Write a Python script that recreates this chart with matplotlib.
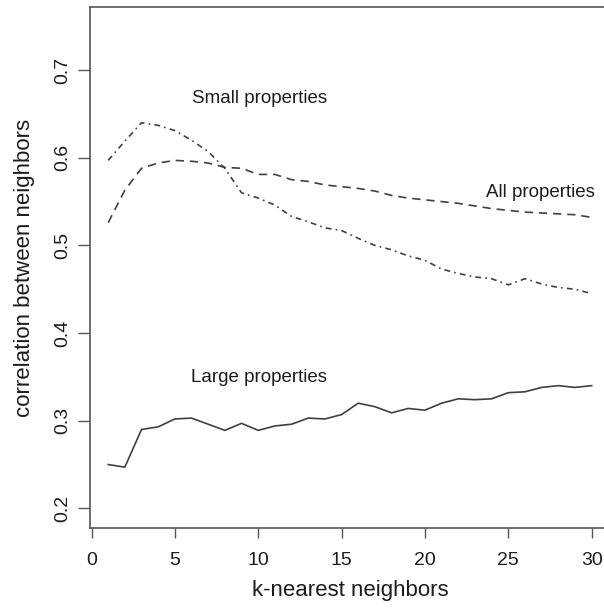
import numpy as np
import matplotlib.pyplot as plt

plt.rcParams['font.family'] = ['Liberation Sans', 'DejaVu Sans']

k = np.arange(1, 31)

# correlation for all properties (dashed)
all_props = [0.526, 0.563, 0.588, 0.594, 0.597, 0.596, 0.594, 0.589, 0.588, 0.581,
             0.581, 0.575, 0.573, 0.569, 0.567, 0.565, 0.562, 0.557, 0.554, 0.552,
             0.550, 0.548, 0.545, 0.542, 0.540, 0.538, 0.537, 0.536, 0.535, 0.532]
# small properties (dash-dot)
small_props = [0.597, 0.619, 0.640, 0.637, 0.631, 0.620, 0.607, 0.588, 0.560, 0.554,
               0.546, 0.533, 0.527, 0.520, 0.517, 0.508, 0.500, 0.495, 0.488, 0.483,
               0.473, 0.468, 0.464, 0.462, 0.455, 0.462, 0.456, 0.452, 0.450, 0.445]
# large properties (solid)
large_props = [0.250, 0.247, 0.290, 0.293, 0.302, 0.303, 0.296, 0.289, 0.297, 0.289,
               0.294, 0.296, 0.303, 0.302, 0.307, 0.320, 0.316, 0.309, 0.314, 0.312,
               0.320, 0.325, 0.324, 0.325, 0.332, 0.333, 0.338, 0.340, 0.338, 0.340]

labels = ['Small properties', 'All properties', 'Large properties']
label_pos = [(10.1, 0.668), (26.9, 0.560), (10.05, 0.349)]

W, H = 604, 609
fig = plt.figure(figsize=(W / 100, H / 100), dpi=100)
# right edge of the plot box lies outside the picture (cropped)
ax = fig.add_axes([90 / W, (H - 528) / H, (611 - 90) / W, (528 - 7) / H])

lc = '#404040'
ax.plot(k, all_props, color=lc, lw=1.2, dashes=(5, 3.5))
ax.plot(k, small_props, color=lc, lw=1.2, dashes=(3.5, 2.5, 1, 2.5))
ax.plot(k, large_props, color=lc, lw=1.2)

tc = '#1c1c1c'
for txt, (x, y) in zip(labels, label_pos):
    ax.text(x, y, txt, ha='center', va='center', fontsize=13.5, color=tc)

ax.set_xlim(-0.09, 31.16)
ax.set_ylim(0.1776, 0.772)
ax.set_xticks([0, 5, 10, 15, 20, 25, 30])
ax.set_yticks([0.2, 0.3, 0.4, 0.5, 0.6, 0.7])
ax.set_yticklabels(['0.2', '0.3', '0.4', '0.5', '0.6', '0.7'], rotation=90, va='center')

for s in ['left', 'top', 'bottom']:
    ax.spines[s].set_color('#555555')
    ax.spines[s].set_linewidth(1.2)
ax.spines['right'].set_visible(False)

ax.tick_params(axis='y', length=8.5, width=1.0, color='#555555', labelsize=14,
               labelcolor=tc, pad=5)
ax.tick_params(axis='x', length=7.5, width=1.0, color='#555555', labelsize=14,
               labelcolor=tc, pad=10)

ax.set_xlabel('k-nearest neighbors', fontsize=16, color=tc, labelpad=8)
ax.set_ylabel('correlation between neighbors', fontsize=16, color=tc, labelpad=14)

plt.savefig('out.png', dpi=100)
plt.close()
